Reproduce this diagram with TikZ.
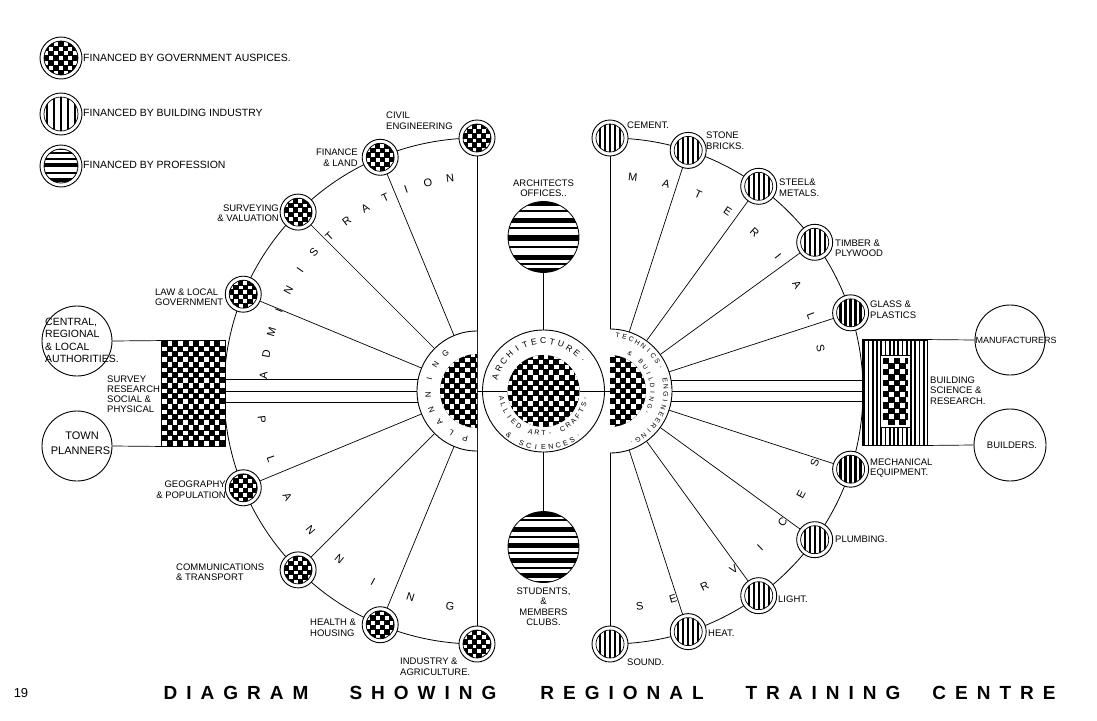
\documentclass[tikz,border=0pt]{standalone}
\usepackage{fontspec}
\setmainfont{Liberation Sans}
\usetikzlibrary{calc}
\makeatletter
\newcommand\spaced[2]{\def\sp@gap{#1}\let\sp@pre\relax\@tfor\sp@ch:=#2\do{\sp@pre\sp@ch\def\sp@pre{\hspace{\sp@gap}}}}
\makeatother
% checkerboard: x0,y0,x1,y1,size
\newcommand\chk[5]{%
  \fill[black] (#1,#2) rectangle (#3,#4);
  \pgfmathtruncatemacro\chknx{ceil(((#3)-(#1))/(#5))-1}%
  \pgfmathtruncatemacro\chkny{ceil(((#4)-(#2))/(#5))-1}%
  \foreach \ii in {0,...,\chknx}{%
    \foreach \jj in {0,...,\chkny}{%
      \pgfmathtruncatemacro\chkp{mod(\ii+\jj,2)}%
      \ifnum\chkp=0 \fill[white] ({(#1)+\ii*(#5)+0.4},{(#2)+\jj*(#5)+0.4}) rectangle ++({(#5)-0.8},{(#5)-0.8});\fi
    }}}
\newcommand\govpat[3]{%
  \begin{scope}[shift={(#1)}]
    \begin{scope}
      \clip (0,0) circle (#2);
      \chk{-#2}{-#2}{#2}{#2}{#3}
    \end{scope}
    \draw[line width=.7pt] (0,0) circle (#2);
  \end{scope}}
\newcommand\vpat[4]{%
  \begin{scope}[shift={(#1)}]
    \begin{scope}
      \clip (0,0) circle (#2);
      \foreach \k in {-6,...,6} \fill ({\k*(#3)-(#4)/2},-#2) rectangle ({\k*(#3)+(#4)/2},#2);
    \end{scope}
    \draw[line width=.7pt] (0,0) circle (#2);
  \end{scope}}
\newcommand\hpat[3]{%
  \begin{scope}[shift={(#1)}]
    \begin{scope}
      \clip (0,0) circle (#2);
      \foreach \yy/\ww in {#3} \fill (-#2,{\yy-\ww/2}) rectangle (#2,{\yy+\ww/2});
    \end{scope}
    \draw[line width=.8pt] (0,0) circle (#2);
  \end{scope}}
% letters along an arc: prefix, centre, radius, start, step, rotation offset, font size, list
\newcommand\arctext[8]{%
  \foreach \lt [count=\ix from 0] in {#8} {%
    \pgfmathsetmacro\ang{#4+\ix*(#5)}%
    \node[inner sep=0pt,font=\fontsize{#7}{#7}\selectfont,rotate={\ang+(#6)}] (#1-\ix) at ($(#2)+(\ang:#3)$) {\lt};
  }}
\tikzset{
  nodec/.style={circle,draw,line width=0.9pt,fill=white,minimum size=36pt,inner sep=0pt},
  bigc/.style={circle,draw,line width=0.9pt,fill=white,inner sep=0pt},
  lab/.style={font=\fontsize{9.5}{10.5}\selectfont,inner sep=0pt},
  leg/.style={font=\fontsize{10.5}{11}\selectfont,inner sep=0pt,anchor=west},
  conn/.style={line width=0.7pt},
}
\begin{document}
\begin{tikzpicture}[x=1pt,y=1pt]
\useasboundingbox (0,0) rectangle (1097,-720);
\fill[white] (0,0) rectangle (1097,-720);
\coordinate (cl) at (477,-391);
\coordinate (cr) at (610,-391);
\coordinate (cc) at (543.5,-391);

% big arcs
\draw[line width=0.8pt] (cl) ++(90:253) arc[start angle=90,end angle=270,radius=253];
\draw[line width=0.8pt] (cr) ++(90:253) arc[start angle=90,end angle=-90,radius=253];

% hub nodes (invisible borders)
\node[circle,minimum size=120pt,inner sep=0pt] (hubL) at (cl) {};
\node[circle,minimum size=124pt,inner sep=0pt] (hubR) at (cr) {};

% left nodes
\path (cl) ++(90:253) node[nodec] (civ) {};
\path (cl) ++(112.5:253) node[nodec] (fin) {};
\path (cl) ++(135:253) node[nodec] (sur) {};
\path (cl) ++(157.5:253) node[nodec] (law) {};
\path (cl) ++(202.5:253) node[nodec] (geo) {};
\path (cl) ++(225:253) node[nodec] (com) {};
\path (cl) ++(247.5:253) node[nodec] (hea) {};
\path (cl) ++(270:253) node[nodec] (ind) {};
% right nodes
\path (cr) ++(90:253) node[nodec] (cem) {};
\path (cr) ++(72:253) node[nodec] (sto) {};
\path (cr) ++(54:253) node[nodec] (ste) {};
\path (cr) ++(36:253) node[nodec] (tim) {};
\path (cr) ++(18:253) node[nodec] (gla) {};
\path (cr) ++(-18:253) node[nodec] (mec) {};
\path (cr) ++(-36:253) node[nodec] (plu) {};
\path (cr) ++(-54:253) node[nodec] (lig) {};
\path (cr) ++(-72:253) node[nodec] (het) {};
\path (cr) ++(-90:253) node[nodec] (snd) {};

\foreach \n in {civ,fin,sur,law,geo,com,hea,ind} {\govpat{\n}{14}{4.6}}
\foreach \n in {cem,sto,ste,tim,gla,mec,plu,lig,het,snd} {\vpat{\n}{14}{5}{2.3}}

% radial connectors
\foreach \n in {fin,sur,law,geo,com,hea} \draw[conn] (\n) -- (hubL);
\foreach \n in {sto,ste,tim,gla,mec,plu,lig,het} \draw[conn] (\n) -- (hubR);
\draw[conn] (civ) -- (ind);
\draw[conn] (cem) -- (snd);

% left hub
\fill[white] (cl) ++(90:60) arc[start angle=90,end angle=270,radius=60] -- cycle;
\draw[line width=0.9pt] (cl) ++(90:60) arc[start angle=90,end angle=270,radius=60];
\begin{scope}
  \clip (cl) ++(90:37) arc[start angle=90,end angle=270,radius=37] -- cycle;
  \chk{439}{-430}{477}{-352}{5.2}
\end{scope}
% right hub
\fill[white] (cr) ++(90:62) arc[start angle=90,end angle=-90,radius=62] -- cycle;
\draw[line width=0.9pt] (cr) ++(90:62) arc[start angle=90,end angle=-90,radius=62];
\begin{scope}
  \clip (cr) ++(90:36) arc[start angle=90,end angle=-90,radius=36] -- cycle;
  \chk{610}{-430}{648}{-352}{5.2}
\end{scope}

% centre
\node[bigc,minimum size=122pt] (arch) at (cc) {};
\node[circle,minimum size=72pt,inner sep=0pt] (archin) at (cc) {};
\begin{scope}
  \clip (cc) circle (36);
  \chk{507}{-427}{580}{-355}{5.2}
\end{scope}
\draw[conn] (cl) -- (archin.west);
\draw[conn] (archin.east) -- (cr);

\node[circle,minimum size=71pt,inner sep=0pt] (arof) at (543.5,-237) {};
\node[circle,minimum size=71pt,inner sep=0pt] (stud) at (543.5,-547) {};
\hpat{arof}{35.5}{34/5,26/2,17/5,9/2,-1/5.5,-10/2,-20/5,-27/2,-33/4}
\hpat{stud}{35.5}{33/5,27/2,17.7/5,10.3/2,2/5,-5.7/2,-13/5,-21.3/2,-28/5,-35/3}
\draw[conn] (arch.north) -- (arof.south);
\draw[conn] (arch.south) -- (stud.north);

% survey box and side circles
\node[draw,line width=0.9pt,minimum width=63pt,minimum height=105pt,inner sep=0pt] (survey) at (193.5,-393.5) {};
\begin{scope}
  \clip (162,-446) rectangle (225,-341);
  \chk{162}{-446}{225}{-341}{5.25}
\end{scope}
\draw[line width=0.9pt] (survey.south west) rectangle (survey.north east);
\node[bigc,minimum size=70pt] (auth) at (77,-341) {};
\node[bigc,minimum size=70pt] (town) at (77,-446) {};
\draw[conn] (auth.east) -- (survey.north west);
\draw[conn] (town.east) -- (survey.south west);
\foreach \a in {169,180,191} \draw[conn] (hubL.\a) -- (hubL.\a -| survey.east);

% building science box
\node[draw,line width=0.9pt,minimum width=64pt,minimum height=105pt,inner sep=0pt] (build) at (895,-392.5) {};
\begin{scope}
  \clip (863,-445) rectangle (927,-340);
  \foreach \k in {0,...,15} \fill ({864.2+\k*4.25-0.95},-445) rectangle ++(1.9,105);
\end{scope}
\fill[white] (880.5,-427.5) rectangle (910.5,-355.5);
\begin{scope}
  \clip (883,-425) rectangle (908,-358);
  \chk{883}{-425}{908}{-358}{5.6}
\end{scope}
\draw[line width=0.8pt] (880.5,-427.5) rectangle (910.5,-355.5);
\draw[line width=0.9pt] (build.south west) rectangle (build.north east);
\node[bigc,minimum size=70pt] (manu) at (1010,-340) {};
\node[bigc,minimum size=72pt] (bldr) at (1010,-445) {};
\draw[conn] (build.north east) -- (manu.west);
\draw[conn] (build.south east) -- (bldr.west);
\foreach \a in {10,0,350} \draw[conn] (hubR.\a) -- (hubR.\a -| build.west);

% legend
\node[bigc,minimum size=42pt] (lg1) at (61,-58) {};
\node[bigc,minimum size=42pt] (lg2) at (61,-114) {};
\node[bigc,minimum size=42pt] (lg3) at (61,-166) {};
\govpat{lg1}{17}{4.8}
\vpat{lg2}{17}{7}{2.8}
\hpat{lg3}{17}{17/2.5,13/1.5,7/1.5,1/4,-7/1.5,-14/4}
\node[leg] (tlg1) at (83,-58) {FINANCED BY GOVERNMENT AUSPICES.};
\node[leg] (tlg2) at (83,-113) {FINANCED BY BUILDING INDUSTRY};
\node[leg] (tlg3) at (83,-165) {FINANCED BY PROFESSION};

% labels left
\node[lab,anchor=west,align=left] (tciv) at (386,-120.5) {CIVIL\\ENGINEERING};
\node[lab,anchor=east,align=right] (tfin) at (358,-157.5) {FINANCE\\\& LAND};
\node[lab,anchor=east,align=right] (tsur) at (279,-213) {SURVEYING\\\& VALUATION};
\node[lab,anchor=west,align=left] (tlaw) at (155,-297) {LAW \& LOCAL\\GOVERNMENT};
\node[lab,anchor=east,align=right] (tgeo) at (226,-489.5) {GEOGRAPHY\\\& POPULATION};
\node[lab,anchor=west,align=left] (tcom) at (176,-572) {COMMUNICATIONS\\\& TRANSPORT};
\node[lab,anchor=west,align=left] (thea) at (310,-628) {HEALTH \&\\HOUSING};
\node[lab,anchor=west,align=left] (tind) at (400,-666.5) {INDUSTRY \&\\AGRICULTURE.};
% labels right
\node[lab,anchor=west] (tcem) at (627,-125) {CEMENT.};
\node[lab,anchor=west,align=left] (tsto) at (706,-140.5) {STONE\\BRICKS.};
\node[lab,anchor=west,align=left] (tste) at (779,-187.5) {STEEL\&\\METALS.};
\node[lab,anchor=west,align=left] (ttim) at (835,-248.5) {TIMBER \&\\PLYWOOD};
\node[lab,anchor=west,align=left] (tgla) at (870,-309.5) {GLASS \&\\PLASTICS};
\node[lab,anchor=west,align=left] (tmec) at (870,-468) {MECHANICAL\\EQUIPMENT.};
\node[lab,anchor=west] (tplu) at (835,-539) {PLUMBING.};
\node[lab,anchor=west] (tlig) at (778,-599) {LIGHT.};
\node[lab,anchor=west] (thet) at (708,-633) {HEAT.};
\node[lab,anchor=west] (tsnd) at (627,-662) {SOUND.};
% centre labels
\node[lab,align=center] (tarof) at (543.5,-188) {ARCHITECTS\\OFFICES..};
\node[lab,align=center] (tstud) at (543.5,-606.5) {STUDENTS,\\\&\\MEMBERS\\CLUBS.};
% side labels
\node[lab,anchor=west,align=left,font=\fontsize{10.5}{12.3}\selectfont] (tauth) at (45,-340.5) {CENTRAL,\\REGIONAL\\\& LOCAL\\AUTHORITIES.};
\node[lab,align=center,font=\fontsize{11}{15}\selectfont] (ttown) at (82,-443.5) {TOWN\\PLANNERS.};
\node[lab,anchor=west,align=left,font=\fontsize{9.5}{10}\selectfont] (tsurv) at (107,-394) {SURVEY\\RESEARCH\\SOCIAL \&\\PHYSICAL};
\node[lab,anchor=west,align=left] (tbuild) at (930,-390.5) {BUILDING\\SCIENCE \&\\RESEARCH.};
\node[lab,font=\fontsize{9}{9}\selectfont] (tmanu) at (1016,-340) {MANUFACTURERS};
\node[lab] (tbldr) at (1012,-445) {BUILDERS.};

% letters along the big arcs
\arctext{adm}{cl}{214}{176}{-6.06}{-90}{11}{A,D,M,I,N,I,S,T,R,A,T,I,O,N}
\arctext{pla}{cl}{217}{187.7}{10.74}{90}{11}{P,L,A,N,N,I,N,G}
\arctext{mat}{cr}{215}{83.9}{-9.05}{-90}{11}{M,A,T,E,R,I,A,L,S}
\arctext{ser}{cr}{217}{-82.1}{8.96}{90}{11}{S,E,R,V,I,C,E,S}
% hub texts
\arctext{hpl}{cl}{49}{256}{-18}{-90}{8}{P,L,A,N,N,I,N,G}
\arctext{hte}{cr}{56}{82}{-7.1}{-90}{6.8}{T,E,C,H,N,I,C,S,{,},{},E,N,G,I,N,E,E,R,I,N,G,.}
\arctext{hbu}{cr}{42.5}{62}{-9.2}{-90}{6.3}{\&,{},B,U,I,L,D,I,N,G,{,}}
\arctext{car}{cc}{50}{164}{-10.5}{-90}{8.5}{A,R,C,H,I,T,E,C,T,U,R,E,.}
\arctext{cal}{cc}{42.5}{190}{8.9}{90}{7}{A,L,L,I,E,D,{},A,R,T,{,},{},C,R,A,F,T,S,{,}}
\arctext{csc}{cc}{56.5}{232}{7.6}{90}{7.2}{\&,{},S,C,I,E,N,C,E,S,.}

% title
\node[font=\fontsize{13}{13}\selectfont,inner sep=0pt] (pg) at (21,-693) {19};
\node[font=\fontsize{19}{19}\selectfont\bfseries,inner sep=0pt] (w1) at (236,-693) {\spaced{9pt}{DIAGRAM}};
\node[font=\fontsize{19}{19}\selectfont\bfseries,inner sep=0pt] (w2) at (423,-693) {\spaced{9pt}{SHOWING}};
\node[font=\fontsize{19}{19}\selectfont\bfseries,inner sep=0pt] (w3) at (622,-693) {\spaced{9pt}{REGIONAL}};
\node[font=\fontsize{19}{19}\selectfont\bfseries,inner sep=0pt] (w4) at (823,-693) {\spaced{9pt}{TRAINING}};
\node[font=\fontsize{19}{19}\selectfont\bfseries,inner sep=0pt] (w5) at (994,-693) {\spaced{9pt}{CENTRE}};
\end{tikzpicture}
\end{document}
